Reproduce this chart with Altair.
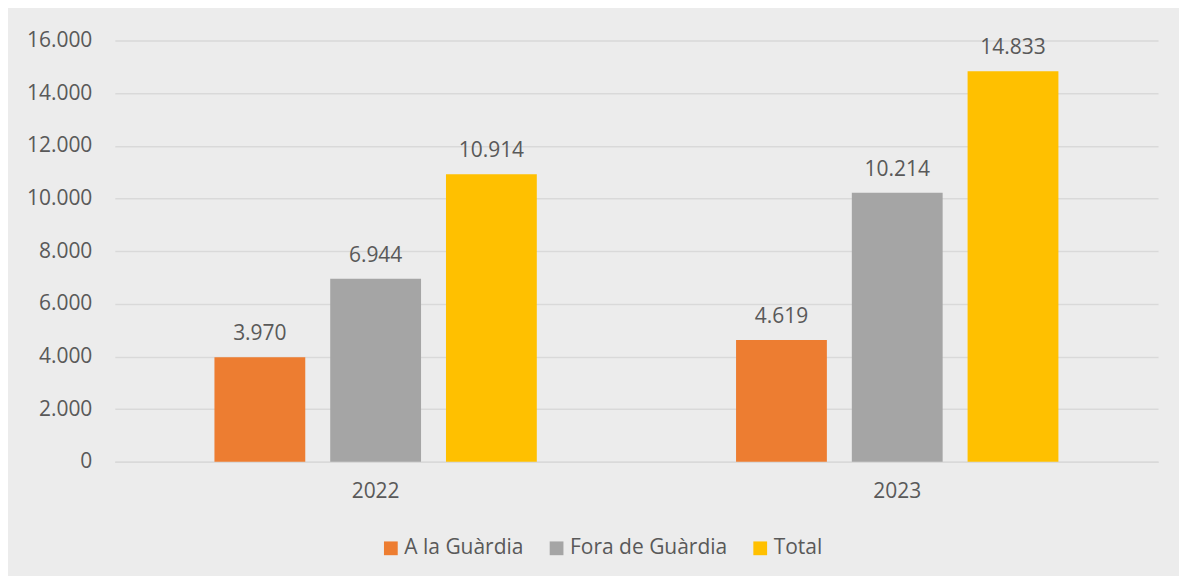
import altair as alt
import pandas as pd

years = ["2022", "2022", "2022", "2023", "2023", "2023"]
series = ["A la Guàrdia", "Fora de Guàrdia", "Total"] * 2
values = [3970, 6944, 10914, 4619, 10214, 14833]

series_order = ["A la Guàrdia", "Fora de Guàrdia", "Total"]
colors = ["#ED7D31", "#A5A5A5", "#FFC000"]

df = pd.DataFrame({"year": years, "series": series, "value": values})

FONT = "Open Sans"
TXT = "#595959"
FS = 21

base = alt.Chart(df).encode(
    x=alt.X("year:N", title=None,
            scale=alt.Scale(paddingInner=0.382, paddingOuter=0.191),
            axis=alt.Axis(labelAngle=0, labelFontSize=FS, labelColor=TXT, labelFont=FONT,
                          labelPadding=19, ticks=False, domainColor="#D9D9D9", domainWidth=1.5,
                          grid=False)),
    xOffset=alt.XOffset("series:N", sort=series_order,
                        scale=alt.Scale(paddingInner=0.2155, paddingOuter=0)),
)

bars = base.mark_bar().encode(
    y=alt.Y("value:Q", title=None,
            scale=alt.Scale(domain=[0, 16000], nice=False),
            axis=alt.Axis(values=list(range(0, 16001, 2000)), labelFontSize=FS, labelColor=TXT,
                          labelFont=FONT, labelPadding=23, ticks=False, domain=False,
                          gridColor="#D9D9D9", gridWidth=1.5,
                          labelExpr="replace(format(datum.value, ','), ',', '.')")),
    color=alt.Color("series:N", sort=series_order,
                    scale=alt.Scale(domain=series_order, range=colors),
                    legend=alt.Legend(title=None, orient="none", direction="horizontal",
                                      legendX=266, legendY=498, symbolType="square",
                                      symbolSize=190, symbolStrokeWidth=0, symbolOpacity=1,
                                      labelFontSize=FS, labelColor=TXT, labelFont=FONT,
                                      columnPadding=22, labelOffset=3)),
)

labels = base.mark_text(baseline="bottom", dy=-13, fontSize=FS, color=TXT, font=FONT).encode(
    y=alt.Y("value:Q"),
    text=alt.Text("label:N"),
).transform_calculate(label="replace(format(datum.value, ','), ',', '.')")

chart = alt.layer(bars, labels).properties(
    width=1045, height=422,
    autosize=alt.AutoSizeParams(type="none"),
    padding={"left": 107, "top": 32, "right": 21, "bottom": 114},
    background="#ECECEC",
).configure_view(stroke=None)

chart.save("out.html", embed_options={"renderer": "svg", "actions": False})
